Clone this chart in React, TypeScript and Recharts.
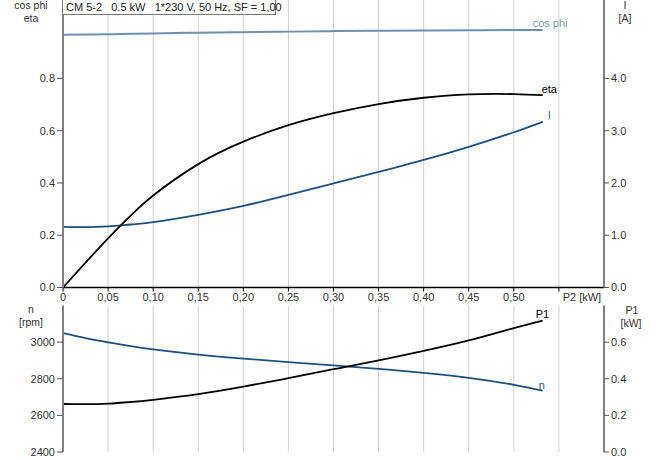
import React from 'react';
import { LineChart, Line, XAxis, YAxis, CartesianGrid } from 'recharts';

// ---- data ----
const p2 = [0, 0.025, 0.05, 0.075, 0.1, 0.15, 0.2, 0.25, 0.3, 0.35, 0.4, 0.45, 0.5, 0.532];
const eta = [0, 0.095, 0.188, 0.275, 0.352, 0.472, 0.558, 0.621, 0.667, 0.702, 0.726, 0.739, 0.74, 0.736];
const cosPhi = [0.967, 0.968, 0.969, 0.971, 0.972, 0.975, 0.977, 0.979, 0.981, 0.982, 0.983, 0.984, 0.985, 0.985];
const current = [1.16, 1.155, 1.17, 1.205, 1.25, 1.39, 1.56, 1.77, 1.99, 2.21, 2.44, 2.69, 2.97, 3.17];
const speed = [3049, 3022, 2999, 2978, 2960, 2932, 2910, 2891, 2873, 2854, 2832, 2805, 2767, 2735];
const p1 = [0.262, 0.261, 0.264, 0.273, 0.285, 0.316, 0.357, 0.403, 0.452, 0.5, 0.552, 0.609, 0.677, 0.718];

const xTicks = [0, 0.05, 0.1, 0.15, 0.2, 0.25, 0.3, 0.35, 0.4, 0.45, 0.5, 0.55];
const leftTopTicks = [0, 0.2, 0.4, 0.6, 0.8];
const rightTopTicks = [0, 1, 2, 3, 4];
const topGridValues = [0, 0.1, 0.2, 0.3, 0.4, 0.5, 0.6, 0.7, 0.8, 0.9, 1.033];
const nTicks = [2400, 2600, 2800, 3000];
const p1Ticks = [0, 0.2, 0.4, 0.6];
const bottomGridValues = [2500, 2600, 2700, 2800, 2900, 3000, 3100, 3200];

const title = 'CM 5-2   0.5 kW   1*230 V, 50 Hz, SF = 1,00';

const topData = p2.map((x, i) => ({ p2: x, eta: eta[i], cosPhi: cosPhi[i], current: current[i] }));
const bottomData = p2.map((x, i) => ({ p2: x, n: speed[i], p1: p1[i] }));

const FONT = '"Liberation Sans", Arial, sans-serif';
const TXT = '#333';
const GRID = '#d0d0d0';
const BLUE = '#1d4f80';
const COSBLUE = '#6f8fb0';
const LAST = p2.length - 1;

const XTick = (props: any) => {
  const { x, y, payload } = props;
  const v = payload.value;
  if (Math.abs(v - 0.55) < 1e-6) {
    return (
      <text x={x + 23} y={y} dy="0.71em" textAnchor="middle" fontSize={11} fontFamily={FONT} fill={TXT}>
        P2 [kW]
      </text>
    );
  }
  const label = v === 0 ? '0' : v.toFixed(2).replace('.', ',');
  return (
    <text x={x} y={y} dy="0.71em" textAnchor="middle" fontSize={11} fontFamily={FONT} fill={TXT}>
      {label}
    </text>
  );
};

const endLabel = (text: string, color: string, dx: number, dy: number) => (props: any) => {
  const { x, y, index } = props;
  if (index !== LAST) return <g />;
  return (
    <text x={x + dx} y={y + dy} fontSize={11} fontFamily={FONT} fill={color}>
      {text}
    </text>
  );
};

const tickStyle = { fontSize: 11, fontFamily: FONT, fill: TXT };

export default function App() {
  return (
    <div style={{ position: 'absolute', left: 0, top: 0, width: 656, height: 460, background: '#fff', overflow: 'hidden' }}>
      {/* bottom chart */}
      <div style={{ position: 'absolute', left: 0, top: 296 }}>
        <LineChart width={656} height={164} data={bottomData} margin={{ top: 9.5, right: 0, bottom: 8, left: 0 }}>
          <CartesianGrid stroke={GRID} horizontalValues={bottomGridValues} verticalValues={xTicks} />
          <XAxis dataKey="p2" type="number" domain={[0, 0.6]} ticks={xTicks} hide />
          <YAxis
            yAxisId="n"
            orientation="left"
            width={63}
            type="number"
            domain={[2400, 3200]}
            ticks={nTicks}
            tick={tickStyle}
            tickSize={6}
            tickMargin={2}
            axisLine={{ stroke: '#808080', strokeWidth: 2 }}
            tickLine={{ stroke: '#555' }}
            interval={0}
          />
          <YAxis
            yAxisId="p1"
            orientation="right"
            width={52}
            type="number"
            domain={[0, 0.8]}
            ticks={p1Ticks}
            tickFormatter={(v: number) => v.toFixed(1)}
            tick={tickStyle}
            tickSize={5}
            tickMargin={2}
            axisLine={{ stroke: '#808080', strokeWidth: 2 }}
            tickLine={{ stroke: '#555' }}
            interval={0}
          />
          <Line yAxisId="n" dataKey="n" type="natural" stroke={BLUE} strokeWidth={1.8} dot={false} isAnimationActive={false}
            label={endLabel('n', BLUE, -4, -2)} />
          <Line yAxisId="p1" dataKey="p1" type="natural" stroke="#000" strokeWidth={1.8} dot={false} isAnimationActive={false}
            label={endLabel('P1', '#000', -7, -3)} />
        </LineChart>
      </div>
      {/* top chart */}
      <div style={{ position: 'absolute', left: 0, top: 0 }}>
        <LineChart width={656} height={306} data={topData} margin={{ top: 0, right: 0, bottom: 0, left: 0 }}>
          <CartesianGrid stroke={GRID} horizontalValues={topGridValues} verticalValues={xTicks} />
          <XAxis
            dataKey="p2"
            type="number"
            domain={[0, 0.6]}
            ticks={xTicks}
            interval={0}
            height={18.5}
            tick={<XTick />}
            tickSize={4}
            tickMargin={2}
            axisLine={{ stroke: '#000', strokeWidth: 1.5 }}
            tickLine={{ stroke: '#000' }}
          />
          <YAxis
            yAxisId="left"
            orientation="left"
            width={63}
            type="number"
            domain={[0, 1.1]}
            ticks={leftTopTicks}
            tickFormatter={(v: number) => v.toFixed(1)}
            tick={tickStyle}
            tickSize={6}
            tickMargin={2}
            axisLine={{ stroke: '#808080', strokeWidth: 2 }}
            tickLine={{ stroke: '#555' }}
            interval={0}
          />
          <YAxis
            yAxisId="right"
            orientation="right"
            width={52}
            type="number"
            domain={[0, 5.5]}
            ticks={rightTopTicks}
            tickFormatter={(v: number) => v.toFixed(1)}
            tick={tickStyle}
            tickSize={5}
            tickMargin={2}
            axisLine={{ stroke: '#808080', strokeWidth: 2 }}
            tickLine={{ stroke: '#555' }}
            interval={0}
          />
          <Line yAxisId="left" dataKey="cosPhi" type="natural" stroke={COSBLUE} strokeWidth={2} dot={false} isAnimationActive={false}
            label={endLabel('cos phi', '#7f9cbb', -10, -3)} />
          <Line yAxisId="right" dataKey="current" type="natural" stroke={BLUE} strokeWidth={1.8} dot={false} isAnimationActive={false}
            label={endLabel('I', '#4a6f95', 5, -3)} />
          <Line yAxisId="left" dataKey="eta" type="natural" stroke="#000" strokeWidth={1.8} dot={false} isAnimationActive={false}
            label={endLabel('eta', '#000', -1, -2)} />
        </LineChart>
      </div>
      {/* title box */}
      <div
        style={{
          position: 'absolute', left: 62, top: 0, width: 209, height: 14,
          border: '1px solid #777', borderTop: 'none', background: '#fff',
          fontFamily: FONT, fontSize: 11, color: '#222', lineHeight: '14px',
          paddingLeft: 3, boxSizing: 'content-box', whiteSpace: 'pre',
        }}
      >
        {title}
      </div>
      {/* axis titles */}
      <svg width={656} height={460} style={{ position: 'absolute', left: 0, top: 0, pointerEvents: 'none' }}>
        <g fontFamily={FONT} fontSize={10.5} fill={TXT} textAnchor="middle">
          <text x={31} y={9}>cos phi</text>
          <text x={31} y={21.5}>eta</text>
          <text x={625} y={9}>I</text>
          <text x={625} y={21.5}>[A]</text>
          <text x={31} y={313}>n</text>
          <text x={31} y={326}>[rpm]</text>
          <text x={632} y={314}>P1</text>
          <text x={631} y={327}>[kW]</text>
        </g>
      </svg>
    </div>
  );
}
